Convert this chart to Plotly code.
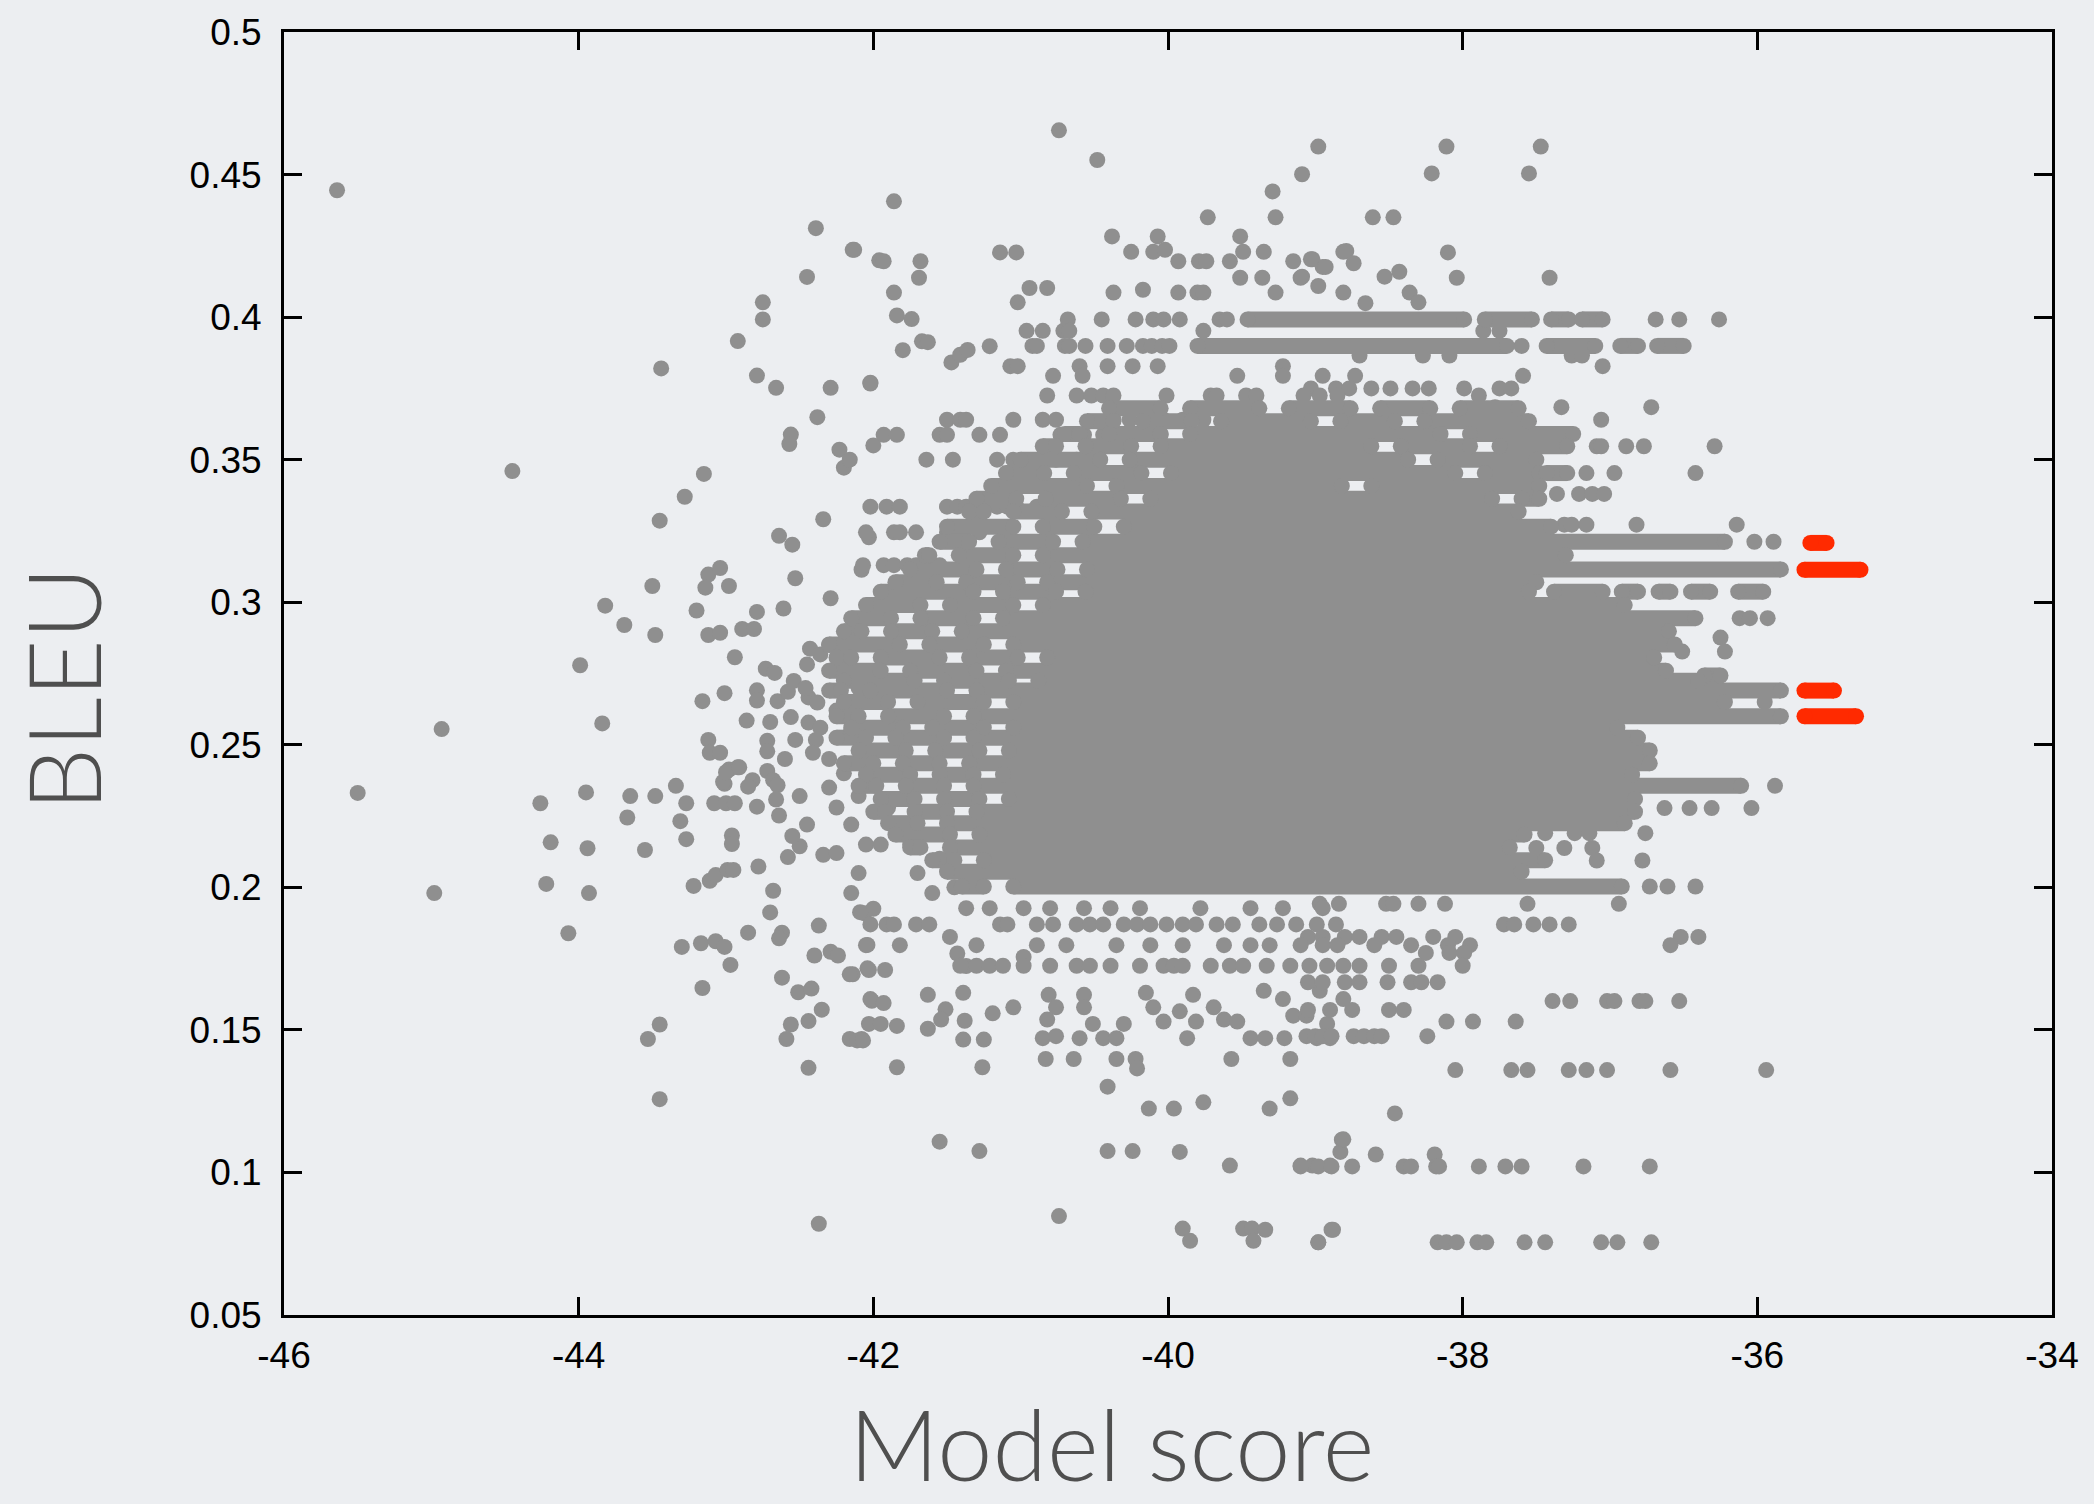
import plotly.graph_objects as go

# ---------------- axes ----------------
x_ticks = [-46, -44, -42, -40, -38, -36, -34]
y_ticks = [0.05, 0.1, 0.15, 0.2, 0.25, 0.3, 0.35, 0.4, 0.45, 0.5]
y_tick_text = ["0.05", "0.1", "0.15", "0.2", "0.25", "0.3", "0.35", "0.4", "0.45", "0.5"]

# ------------- dense runs of hypotheses (gray): BLEU value -> list of (score from, score to) -------------
run_bleu = [0.3992, 0.3899, 0.3680, 0.3635, 0.3590, 0.3547, 0.3500, 0.3453, 0.3408,
            0.3363, 0.3318, 0.3265, 0.3212, 0.3165, 0.3115, 0.3070, 0.3037, 0.2990,
            0.2944, 0.2898, 0.2852, 0.2806, 0.2760, 0.2743, 0.2725, 0.2690, 0.2650,
            0.2600, 0.2560, 0.2525, 0.2480, 0.2435, 0.2395, 0.2356, 0.2310, 0.2265,
            0.2225, 0.2185, 0.2140, 0.2095, 0.2055, 0.2003]
run_spans = [
    [(-39.46, -37.99), (-37.85, -37.53), (-37.40, -37.28), (-37.19, -37.05)],
    [(-39.80, -37.70), (-37.43, -37.10), (-36.93, -36.81), (-36.68, -36.50)],
    [(-40.40, -40.05), (-39.85, -39.38), (-39.18, -38.76), (-38.56, -38.22), (-38.02, -37.62)],
    [(-40.55, -40.37), (-40.17, -39.84), (-39.64, -39.03), (-38.83, -38.46), (-38.26, -37.55)],
    [(-40.70, -40.60), (-40.40, -40.05), (-39.85, -38.15), (-37.95, -37.25)],
    [(-40.85, -40.76), (-40.56, -40.25), (-40.05, -38.62), (-38.42, -37.95), (-37.75, -37.29)],
    [(-41.00, -40.46), (-40.26, -38.37), (-38.17, -37.50)],
    [(-41.10, -40.84), (-40.64, -40.18), (-39.98, -38.05), (-37.85, -37.48), (-37.43, -37.29)],
    [(-41.20, -40.55), (-40.35, -38.82), (-38.62, -37.48)],
    [(-41.30, -41.03), (-40.83, -40.32), (-40.12, -37.80), (-37.60, -37.48)],
    [(-41.35, -41.25), (-41.05, -40.72), (-40.52, -37.62)],
    [(-41.50, -41.05), (-40.85, -40.50), (-40.30, -37.40)],
    [(-41.55, -41.35), (-41.15, -40.78), (-40.58, -36.22)],
    [(-41.65, -41.62), (-41.42, -41.05), (-40.85, -37.30)],
    [(-41.75, -41.30), (-41.10, -40.75), (-40.55, -35.84)],
    [(-41.85, -41.57), (-41.37, -41.02), (-40.82, -37.50)],
    [(-41.95, -41.32), (-41.12, -40.76), (-40.56, -37.55), (-37.38, -37.05), (-36.92, -36.81),
     (-36.67, -36.59), (-36.45, -36.32), (-36.13, -35.96)],
    [(-42.05, -41.68), (-41.48, -41.05), (-40.85, -36.90)],
    [(-42.15, -41.88), (-41.68, -41.32), (-41.12, -36.42)],
    [(-42.20, -42.08), (-41.88, -41.60), (-41.40, -36.60)],
    [(-42.30, -41.82), (-41.62, -41.25), (-41.05, -36.56)],
    [(-42.25, -42.15), (-41.95, -41.55), (-41.35, -41.02), (-40.82, -36.70)],
    [(-42.30, -41.95), (-41.75, -41.30), (-41.10, -36.62)],
    [(-36.36, -36.25)],
    [(-42.20, -41.72), (-41.52, -41.08), (-40.88, -36.40)],
    [(-42.30, -42.22), (-42.02, -41.50), (-41.30, -35.84)],
    [(-42.20, -41.90), (-41.70, -41.25), (-41.05, -36.22)],
    [(-42.25, -42.10), (-41.90, -41.52), (-41.32, -35.84)],
    [(-42.15, -41.80), (-41.60, -41.25), (-41.05, -36.95)],
    [(-42.25, -42.05), (-41.85, -41.52), (-41.32, -36.81)],
    [(-42.10, -41.78), (-41.58, -41.28), (-41.08, -36.73)],
    [(-42.20, -42.00), (-41.80, -41.55), (-41.35, -36.73)],
    [(-42.05, -41.75), (-41.55, -41.32), (-41.12, -36.85)],
    [(-42.10, -41.98), (-41.78, -41.52), (-41.32, -36.11)],
    [(-41.95, -41.72), (-41.52, -41.28), (-41.08, -36.83)],
    [(-42.00, -41.92), (-41.72, -41.50), (-41.30, -36.83)],
    [(-41.90, -41.70), (-41.50, -36.90)],
    [(-41.85, -41.48), (-41.28, -37.58)],
    [(-41.75, -41.68), (-41.48, -37.68)],
    [(-41.60, -41.45), (-41.25, -37.44)],
    [(-41.50, -37.60)],
    [(-41.40, -41.25), (-41.05, -36.92)],
]

# ------------- best-scoring hypotheses (red runs) -------------
red_bleu = [0.3208, 0.3114, 0.2690, 0.2600]
red_spans = [[(-35.64, -35.53)], [(-35.68, -35.30)], [(-35.68, -35.48)], [(-35.68, -35.33)]]

# ------------- rows of single points sharing a BLEU value -------------
row_bleu = [0.3992, 0.3899, 0.3952, 0.3865, 0.3828, 0.3794, 0.3750, 0.3725, 0.3684,
            0.3640, 0.3587, 0.3547, 0.3500, 0.3453, 0.3380, 0.3335, 0.3272, 0.3245,
            0.3212, 0.3130, 0.3035, 0.2944, 0.2876, 0.2827, 0.2650, 0.2356, 0.2278,
            0.2190, 0.2138, 0.2094, 0.2003, 0.1942, 0.1927, 0.1870, 0.1826, 0.1797,
            0.1770, 0.1725, 0.1667, 0.1601, 0.1570, 0.1529, 0.1478, 0.1359, 0.1207,
            0.1116, 0.1063, 0.1021, 0.0799, 0.0755]
row_scores = [
    [-40.68, -40.45, -40.22, -40.10, -40.03, -39.92, -39.65, -39.60, -36.69, -36.53, -36.26],
    [-40.92, -40.89, -40.70, -40.67, -40.56, -40.41, -40.28, -40.17, -40.11, -40.04, -39.99, -37.60],
    [-40.96, -40.85, -40.71, -40.67, -39.76, -37.86, -37.75],
    [-38.70, -38.27, -38.09, -37.26, -37.19],
    [-41.07, -41.02, -40.60, -40.41, -40.24, -40.07, -39.22, -37.05],
    [-40.78, -40.58, -39.53, -39.22, -38.95, -38.73, -37.59],
    [-39.03, -38.86, -38.77, -38.62, -38.49, -38.34, -38.23, -37.99, -37.75, -37.67],
    [-40.82, -40.62, -40.52, -40.44, -40.37, -40.01, -39.71, -39.67, -39.47, -39.40, -39.08, -38.97, -38.85, -37.89],
    [-37.78, -37.33, -36.72],
    [-41.50, -41.41, -41.37, -41.05, -40.85, -40.76, -40.37, -40.26, -40.03, -39.90, -39.76, -39.62, -37.06],
    [-41.93, -41.84, -41.55, -41.50, -41.28, -41.14, -40.73, -40.57, -40.44, -40.05, -37.31],
    [-37.09, -37.06, -36.89, -36.77, -36.29],
    [-42.16, -41.64, -41.46, -41.16, -41.05, -40.76, -40.62],
    [-37.16, -36.97, -36.42],
    [-37.36, -37.21, -37.12, -37.04],
    [-42.02, -41.91, -41.82, -41.50, -41.43, -41.37, -41.30, -41.16, -41.09, -41.03, -40.89],
    [-37.31, -37.26, -37.16, -36.82, -36.14],
    [-42.05, -41.86, -41.82, -41.71, -41.50, -41.43, -41.28],
    [-36.02, -35.89],
    [-42.07, -41.93, -41.86, -41.77, -41.71, -41.64, -41.55],
    [-41.91, -41.82],
    [-36.12, -36.05, -35.93],
    [-36.25],
    [-36.51, -36.22],
    [-35.95],
    [-35.88],
    [-36.63, -36.46, -36.31, -36.04],
    [-37.44, -37.24, -37.14, -36.76],
    [-37.50, -37.31, -37.12],
    [-37.09, -36.78],
    [-36.73, -36.61, -36.42],
    [-38.97, -38.84, -38.52, -38.47, -38.30, -38.12, -37.56, -36.94],
    [-41.37, -41.21, -40.98, -40.80, -40.57, -40.39, -40.19, -39.78, -39.44, -39.22, -38.95],
    [-42.02, -41.86, -41.71, -41.62, -41.14, -41.09, -40.89, -40.78, -40.62, -40.53, -40.44,
     -40.30, -40.21, -40.12, -40.01, -39.90, -39.81, -39.67, -39.56, -39.38, -39.26, -39.13,
     -38.99, -38.86, -37.72, -37.65, -37.52, -37.41, -37.28],
    [-39.05, -38.95, -38.80, -38.70, -38.55, -38.45, -38.20, -38.05, -36.52, -36.40],
    [-41.82, -41.30, -40.89, -40.69, -40.35, -40.12, -39.90, -39.62, -39.44, -39.31, -39.10,
     -38.95, -38.85, -38.60, -38.35, -38.10, -37.95, -36.59],
    [-38.25, -38.09, -37.99],
    [-41.41, -41.30, -41.21, -41.12, -40.98, -40.80, -40.62, -40.53, -40.39, -40.19, -40.03,
     -39.96, -39.90, -39.71, -39.58, -39.49, -39.33, -39.17, -39.04, -38.92, -38.81, -38.70,
     -38.50, -38.30, -38.00],
    [-39.05, -38.95, -38.80, -38.70, -38.51, -38.35, -38.28, -38.17],
    [-37.39, -37.27, -37.02, -36.97, -36.80, -36.76, -36.53],
    [-39.05, -38.90, -38.75, -38.50, -38.40],
    [-38.11, -37.93, -37.64],
    [-39.06, -39.00, -38.95, -38.89, -38.74, -38.67, -38.60, -38.55, -38.24],
    [-38.05, -37.67, -37.56, -37.28, -37.16, -37.02, -36.59, -35.94],
    [-38.46],
    [-38.81],
    [-38.59, -38.19],
    [-39.10, -38.98, -38.89, -38.75, -38.40, -38.35, -38.18, -38.16, -37.89, -37.71, -37.60, -37.18, -36.73],
    [-38.88],
    [-38.98, -38.17, -38.11, -38.04, -37.90, -37.84, -37.58, -37.44, -37.06, -36.95, -36.72],
]

# ------------- scattered points, left part -------------
left_x = [-45.64, -42.39, -42.14, -41.96, -42.45, -42.75, -42.75, -42.92, -43.44, -42.79,
          -42.66, -42.29, -42.02, -42.38, -42.56, -42.57, -42.23, -42.20, -42.00, -44.45,
          -43.15, -43.28, -43.45, -42.34, -42.64, -42.55, -42.03, -42.53, -43.12, -43.04,
          -43.14, -42.98, -42.08, -42.29, -43.50, -43.82, -43.69, -43.48, -43.20, -43.12,
          -43.04, -42.89, -42.81, -42.79, -42.61, -42.94, -42.73, -42.67, -42.43, -42.45,
          -42.36, -43.99, -43.16, -43.01, -42.79, -42.79, -42.65, -42.58, -42.54, -42.44,
          -42.38, -42.46, -43.84, -42.86, -42.70, -42.56, -42.44, -42.36, -43.12, -43.11,
          -43.04, -42.98, -43.01, -42.92, -42.82, -42.85, -42.72, -42.72, -42.72, -42.53,
          -42.68, -42.65, -42.39, -42.41, -44.93, -45.50, -44.98, -44.26, -44.19, -44.22,
          -44.07, -43.95, -43.94, -43.93, -43.65, -43.67, -43.55, -43.48, -43.34, -43.27,
          -43.31, -43.27, -43.22, -43.11, -43.07, -42.99, -42.95, -43.08, -43.00, -42.94,
          -43.02, -43.00, -42.91, -42.96, -42.96, -42.79, -42.78, -42.66, -42.64, -42.68,
          -42.70, -42.50, -42.58, -42.34, -43.30, -43.17, -43.07, -43.01, -42.97, -43.16,
          -42.85, -42.62, -42.64, -42.37, -42.40, -42.29, -42.24, -42.62, -42.51, -42.42,
          -42.35, -42.44, -42.56, -42.59, -42.44, -42.15, -42.14, -42.04, -42.16, -42.08,
          -42.04, -42.01, -42.03, -43.53, -43.45, -43.45, -42.37, -42.06, -42.00,
          -42.30, -42.20, -42.10, -42.25, -42.15, -42.30, -42.20, -42.10, -42.25, -42.15,
          -42.05, -42.25, -42.10, -42.30, -42.60, -42.50, -42.45, -42.55,
          -41.75, -41.70, -41.55, -41.45, -41.60, -41.80, -41.35, -41.90, -41.95]
left_y = [0.4445, 0.4312, 0.4236, 0.4199, 0.4141, 0.4052, 0.3992, 0.3916, 0.3820, 0.3795,
          0.3752, 0.3752, 0.3770, 0.3649, 0.3588, 0.3555, 0.3535, 0.3472, 0.3550, 0.3460,
          0.3450, 0.3370, 0.3286, 0.3291, 0.3233, 0.3202, 0.3228, 0.3084, 0.3097, 0.3120,
          0.3051, 0.3057, 0.3114, 0.3014, 0.3057, 0.2988, 0.2920, 0.2885, 0.2971, 0.2885,
          0.2893, 0.2906, 0.2906, 0.2966, 0.2978, 0.2807, 0.2767, 0.2752, 0.2837, 0.2782,
          0.2817, 0.2779, 0.2653, 0.2681, 0.2691, 0.2655, 0.2653, 0.2686, 0.2724, 0.2666,
          0.2648, 0.2699, 0.2575, 0.2585, 0.2580, 0.2597, 0.2578, 0.2560, 0.2517, 0.2472,
          0.2472, 0.2413, 0.2363, 0.2421, 0.2376, 0.2353, 0.2514, 0.2477, 0.2408, 0.2517,
          0.2376, 0.2358, 0.2517, 0.2472, 0.2555, 0.2331, 0.1980, 0.2295, 0.2158, 0.2012,
          0.1839, 0.2333, 0.2137, 0.1980, 0.2320, 0.2245, 0.2131, 0.2320, 0.2356, 0.2295,
          0.2232, 0.2169, 0.2005, 0.2023, 0.2043, 0.2061, 0.2061, 0.2295, 0.2295, 0.2295,
          0.2370, 0.2404, 0.2421, 0.2182, 0.2152, 0.2283, 0.2073, 0.2308, 0.2252, 0.1988,
          0.1912, 0.2144, 0.2106, 0.2114, 0.1791, 0.1804, 0.1811, 0.1791, 0.1728, 0.1647,
          0.1841, 0.1841, 0.1821, 0.1866, 0.1761, 0.1774, 0.1761, 0.1683, 0.1632, 0.1645,
          0.1571, 0.1531, 0.1519, 0.1468, 0.1367, 0.1980, 0.1695, 0.1716, 0.1468, 0.1468,
          0.1798, 0.1602, 0.1521, 0.1468, 0.1519, 0.1257, 0.0820, 0.1909, 0.1925,
          0.2850, 0.2780, 0.2700, 0.2620, 0.2550, 0.2450, 0.2400, 0.2320, 0.2280, 0.2220,
          0.2150, 0.2120, 0.2050, 0.2350, 0.2450, 0.2320, 0.2220, 0.2180,
          0.2150, 0.2050, 0.2100, 0.2000, 0.1980, 0.2220, 0.2050, 0.2280, 0.2150]

# ------------- scattered points, upper part -------------
top_x = [-40.74, -40.48, -38.98, -39.09, -39.29, -39.27, -39.73, -41.86, -42.13, -41.93,
         -41.68, -41.69, -41.14, -41.03, -41.86, -41.84, -41.74, -41.80, -41.67, -41.63,
         -42.02, -41.47, -41.41, -41.36, -41.21, -40.38, -40.25, -40.07, -40.10, -40.02,
         -39.93, -39.79, -39.74, -39.51, -39.49, -39.58, -39.35, -39.51, -39.36, -39.15,
         -39.02, -38.95, -39.10, -38.98, -38.81, -40.94, -40.82, -41.02, -40.37, -40.17,
         -39.93, -39.80, -39.76, -39.27, -38.81,
         -38.11, -37.47, -38.21, -37.55, -38.61, -38.47, -38.79, -38.74, -39.03, -38.93,
         -39.09, -38.10, -38.53, -38.43, -38.04, -37.41, -38.66, -38.36, -38.30]
top_y = [0.4655, 0.4551, 0.4598, 0.4501, 0.4441, 0.4350, 0.4350, 0.4406, 0.4236, 0.4196,
         0.4196, 0.4138, 0.4227, 0.4227, 0.4086, 0.4006, 0.3993, 0.3884, 0.3915, 0.3912,
         0.3767, 0.3841, 0.3868, 0.3885, 0.3898, 0.4283, 0.4229, 0.4283, 0.4229, 0.4236,
         0.4196, 0.4196, 0.4196, 0.4283, 0.4229, 0.4196, 0.4229, 0.4138, 0.4138, 0.4196,
         0.4203, 0.4176, 0.4138, 0.4109, 0.4229, 0.4102, 0.4102, 0.4052, 0.4086, 0.4096,
         0.4086, 0.4086, 0.4086, 0.4086, 0.4086,
         0.4598, 0.4598, 0.4504, 0.4504, 0.4350, 0.4350, 0.4232, 0.4189, 0.4203, 0.4176,
         0.4142, 0.4227, 0.4142, 0.4159, 0.4138, 0.4138, 0.4049, 0.4086, 0.4052]

# ------------- scattered points, lower part -------------
low_x = [-42.09, -41.91, -42.05, -42.16, -42.03, -41.92, -42.02, -41.93, -41.95, -41.84,
         -42.11, -42.07, -41.84, -41.26, -41.63, -41.51, -41.54, -41.63, -41.39, -41.38,
         -41.39, -41.25, -41.48, -41.43, -41.37, -41.19, -41.05, -40.98, -40.81, -40.76,
         -40.82, -40.85, -40.76, -40.83, -40.64, -40.60, -40.57, -40.57, -40.51, -40.44,
         -40.35, -40.30, -40.35, -40.22, -40.21, -40.41, -40.13, -39.96, -39.76, -39.31,
         -39.17, -41.55, -41.28, -40.41, -40.24, -39.92, -39.58, -39.10, -39.02, -38.90,
         -38.83, -38.82, -40.74, -39.90, -39.85, -39.49, -39.43, -39.34, -39.42, -38.98,
         -38.89, -40.15, -40.10, -40.03, -39.92, -39.81, -39.83, -39.87, -39.69, -39.62,
         -39.53, -39.57, -39.44, -39.34, -39.21, -39.17, -39.35, -39.22, -39.15, -39.06,
         -38.99, -38.90, -38.97, -38.81, -38.92]
low_y = [0.1913, 0.1870, 0.1797, 0.1695, 0.1710, 0.1710, 0.1608, 0.1594, 0.1521, 0.1514,
         0.1463, 0.1463, 0.1369, 0.1369, 0.1623, 0.1572, 0.1536, 0.1504, 0.1630, 0.1532,
         0.1466, 0.1466, 0.1826, 0.1768, 0.1724, 0.1558, 0.1579, 0.1756, 0.1623, 0.1579,
         0.1536, 0.1471, 0.1478, 0.1398, 0.1398, 0.1471, 0.1623, 0.1579, 0.1521, 0.1471,
         0.1471, 0.1521, 0.1398, 0.1398, 0.1365, 0.1301, 0.1224, 0.1224, 0.1246, 0.1224,
         0.1260, 0.1108, 0.1075, 0.1075, 0.1075, 0.1072, 0.1024, 0.1024, 0.1024, 0.1024,
         0.1072, 0.1115, 0.0847, 0.0803, 0.0760, 0.0803, 0.0803, 0.0799, 0.0760, 0.0755,
         0.0799, 0.1630, 0.1579, 0.1529, 0.1565, 0.1529, 0.1623, 0.1471, 0.1579, 0.1536,
         0.1529, 0.1398, 0.1471, 0.1471, 0.1471, 0.1398, 0.1637, 0.1608, 0.1550, 0.1550,
         0.1471, 0.1471, 0.1637, 0.1608, 0.1521]

# ---------------- styling ----------------
GRAY = "#8f8f8f"
RED = "#ff2a00"
BG = "#eceef1"
DOT = 16


def runs(bleu, spans):
    xs, ys = [], []
    for b, segs in zip(bleu, spans):
        for a, c in segs:
            xs += [a, c, None]
            ys += [b, b, None]
    return xs, ys


fig = go.Figure()

pts_x = left_x + top_x + low_x
pts_y = left_y + top_y + low_y
for b, scores in zip(row_bleu, row_scores):
    pts_x += scores
    pts_y += [b] * len(scores)

fig.add_trace(go.Scatter(x=pts_x, y=pts_y, mode="markers",
                         marker=dict(size=DOT, color=GRAY, line=dict(width=0)),
                         hoverinfo="skip", showlegend=False))

rx, ry = runs(run_bleu, run_spans)
fig.add_trace(go.Scatter(x=rx, y=ry, mode="lines+markers", connectgaps=False,
                         line=dict(color=GRAY, width=DOT),
                         marker=dict(size=DOT, color=GRAY, line=dict(width=0)),
                         hoverinfo="skip", showlegend=False))

redx, redy = runs(red_bleu, red_spans)
fig.add_trace(go.Scatter(x=redx, y=redy, mode="lines+markers", connectgaps=False,
                         line=dict(color=RED, width=DOT),
                         marker=dict(size=DOT, color=RED, line=dict(width=0)),
                         hoverinfo="skip", showlegend=False))

axis_common = dict(showline=True, linecolor="black", linewidth=3, mirror="ticks",
                   ticks="inside", ticklen=18, tickwidth=2.5, tickcolor="black",
                   showgrid=False, zeroline=False,
                   tickfont=dict(family="Liberation Sans, Arial, sans-serif", size=37, color="black"))

fig.update_xaxes(range=[-46, -34], tickvals=x_ticks, ticktext=[str(v) for v in x_ticks],
                 ticklabelstandoff=6, **axis_common)
fig.update_yaxes(range=[0.05, 0.5], tickvals=y_ticks, ticktext=y_tick_text,
                 ticklabelstandoff=12, **axis_common)

fig.update_layout(
    width=2094, height=1504,
    margin=dict(l=284, r=42, t=29, b=189),
    paper_bgcolor=BG, plot_bgcolor=BG,
    annotations=[
        dict(text="Model score", x=0.468, y=-0.0993, xref="paper", yref="paper",
             xanchor="center", yanchor="middle", showarrow=False,
             font=dict(family="Lato, Open Sans, sans-serif", size=99, color="#4f4f4f", weight=300)),
        dict(text="BLEU", x=-0.1255, y=0.488, xref="paper", yref="paper", textangle=-90,
             xanchor="center", yanchor="middle", showarrow=False,
             font=dict(family="Lato, Open Sans, sans-serif", size=100, color="#4f4f4f", weight=300)),
    ],
)

fig.write_html("out.html", config={"displayModeBar": False},
               post_script="document.body.style.margin='0';"
                           "document.body.style.backgroundColor='#eceef1';")
